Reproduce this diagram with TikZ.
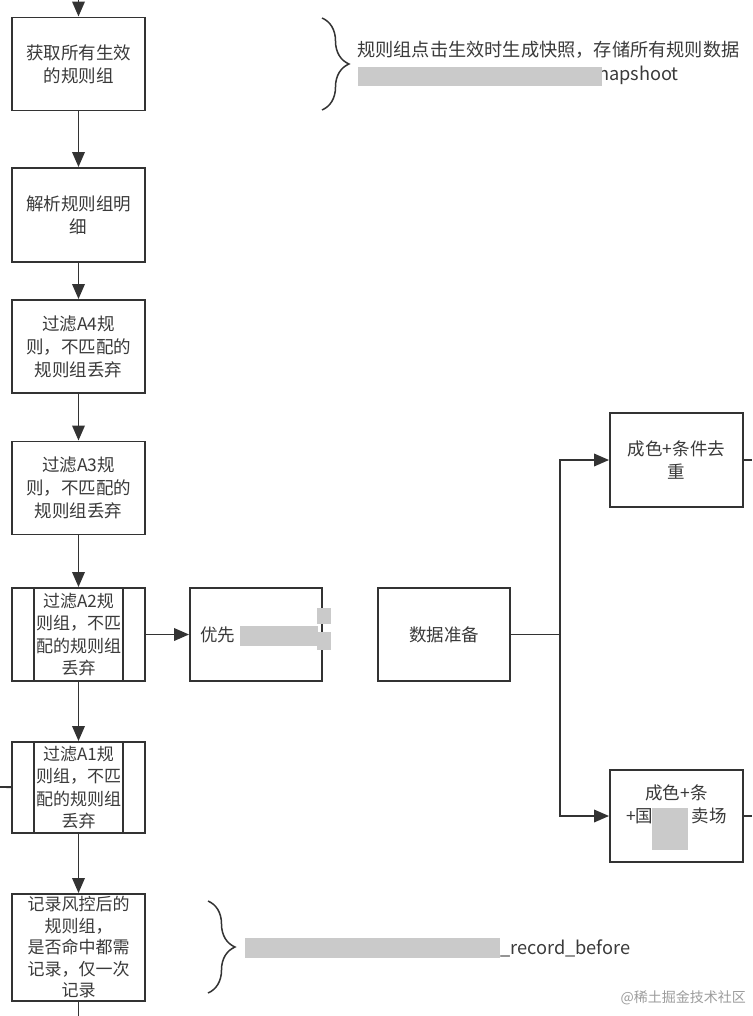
\documentclass[tikz,border=0pt]{standalone}
\usepackage{fontspec}
\setmainfont{Noto Sans CJK SC}
\usetikzlibrary{
  arrows.meta,
  calc,
  decorations.pathreplacing,
  positioning
}
\definecolor{ink}{HTML}{333333}
\definecolor{textgrey}{HTML}{3A3A3A}
\definecolor{blur}{HTML}{CACACA}
\definecolor{wmgrey}{HTML}{9C9C9C}
\newcommand{\boxfont}{\fontsize{17.5}{23}\selectfont}
\tikzset{
  flow/.style={
    -{Triangle[length=15pt,width=12.5pt]},
    line width=1.9pt,
    draw=ink
  },
  link/.style={
    line width=1.9pt,
    draw=ink
  },
  stepbox/.style={
    draw=ink,
    fill=white,
    line width=1.9pt,
    minimum width=133pt,
    minimum height=93pt,
    inner sep=2pt,
    align=center,
    text=textgrey,
    font=\boxfont
  },
  notetext/.style={
    inner sep=0pt,
    text=textgrey,
    font=\fontsize{18.2}{22}\selectfont
  },
  curly/.style={
    decorate,
    decoration={brace, amplitude=27pt},
    line width=1.5pt,
    draw=ink
  },
  mosaic/.style={
    fill=blur,
    draw=none
  }
}

\begin{document}
\begin{tikzpicture}[x=1pt, y=-1pt]
  \useasboundingbox (0,0) rectangle (752,1016);

  \node[stepbox] (getall) at (78.5,64) {获取所有生效\\的规则组};
  \node[stepbox, minimum height=94pt] (parse) at (78.5,215) {解析规则组明\\细};
  \node[stepbox] (fafour) at (78.5,346.5) {过滤A4规\\则，不匹配的\\规则组丢弃};
  \node[stepbox] (fathree) at (78.5,488) {过滤A3规\\则，不匹配的\\规则组丢弃};
  \node[stepbox, font=\fontsize{17}{22.5}\selectfont] (fatwo) at (78.5,634.5)
    {过滤A2规\\则组，不匹\\配的规则组\\丢弃};
  \node[stepbox, minimum height=91pt, font=\fontsize{17}{22.5}\selectfont] (faone)
    at (78.5,787.5) {过滤A1规\\则组，不匹\\配的规则组\\丢弃};
  \node[stepbox, minimum height=107pt, font=\fontsize{17}{21.5}\selectfont] (record)
    at (78.5,947.5) {记录风控后的\\规则组，\\是否命中都需\\记录，仅一次\\记录};

  \node[stepbox, minimum width=132pt, text width=112pt, align=left] (prio)
    at (256,634.5) {优先};
  \node[stepbox, minimum width=132pt] (prep) at (444,634.5) {数据准备};
  \node[stepbox, minimum height=94pt] (dedup) at (676.5,460) {成色+条件去\\重};
  \node[stepbox, minimum height=92pt] (full) at (676.5,816)
    {成色+条\\+国\hspace{2.2em}卖场\\\phantom{卖场}};

  \draw[link] ([xshift=23pt]fatwo.north west) -- ([xshift=23pt]fatwo.south west);
  \draw[link] ([xshift=-23pt]fatwo.north east) -- ([xshift=-23pt]fatwo.south east);
  \draw[link] ([xshift=23pt]faone.north west) -- ([xshift=23pt]faone.south west);
  \draw[link] ([xshift=-23pt]faone.north east) -- ([xshift=-23pt]faone.south east);

  \coordinate (entry) at (78.5,0);
  \coordinate (exit) at (78.5,1016);
  \coordinate (split) at (560,634.5);
  \coordinate (sidein) at (0,787);
  \coordinate (outa) at (752,460);
  \coordinate (outb) at (752,816);

  \draw[flow] (entry) -- (getall);
  \draw[flow] (getall) -- (parse);
  \draw[flow] (parse) -- (fafour);
  \draw[flow] (fafour) -- (fathree);
  \draw[flow] (fathree) -- (fatwo);
  \draw[flow] (fatwo) -- (faone);
  \draw[flow] (faone) -- (record);
  \draw[link] (record) -- (exit);
  \draw[flow] (fatwo) -- (prio);
  \draw[link] (sidein) -- (faone);
  \draw[link] (prep) -- (split);
  \draw[flow] (split) |- (dedup);
  \draw[flow] (split) |- (full);
  \draw[link] (dedup) -- (outa);
  \draw[link] (full) -- (outb);

  \draw[curly] (322,18) -- (322,110);
  \node[notetext, anchor=west] (snapnote) at (357,50)
    {规则组点击生效时生成快照，存储所有规则数据};
  \node[notetext, anchor=east] (snaptable) at (679,75) {napshoot};
  \fill[mosaic] (358,67) rectangle (602,86);

  \draw[curly] (208,901) -- (208,993);
  \node[notetext, anchor=west] (recordtable) at (500,948) {\_record\_before};
  \fill[mosaic] (245,938) rectangle (500,958);

  \fill[mosaic] (240,626) rectangle (318,646);
  \fill[mosaic] (317,608) rectangle (331,624);
  \fill[mosaic] (317,632) rectangle (331,650);
  \fill[mosaic] (652,808) rectangle (688,850);

  \node[anchor=east, inner sep=0pt, text=wmgrey, font=\fontsize{14}{16}\selectfont]
    (site) at (746,998) {@稀土掘金技术社区};
\end{tikzpicture}
\end{document}
